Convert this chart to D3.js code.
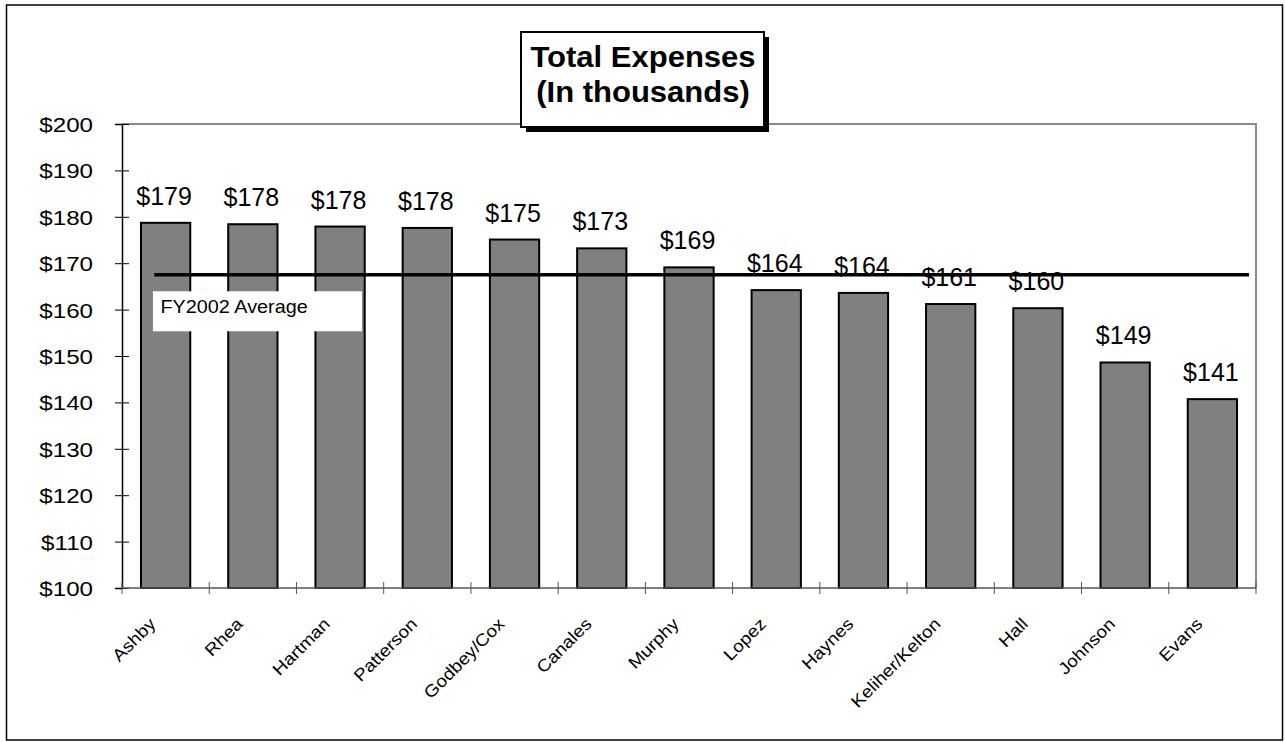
<!DOCTYPE html>
<html>
<head>
<meta charset="utf-8">
<script src="https://cdn.jsdelivr.net/npm/d3@7/dist/d3.min.js"></script>
<style>
  html, body { margin: 0; padding: 0; background: #fff; }
  svg { display: block; }
  text { font-family: "Liberation Sans", Arial, Helvetica, sans-serif; fill: #000; }
</style>
</head>
<body>
<svg id="chart" width="1285" height="742"></svg>
<script>
// ---- data ----
const categories = ["Ashby","Rhea","Hartman","Patterson","Godbey/Cox","Canales","Murphy","Lopez","Haynes","Keliher/Kelton","Hall","Johnson","Evans"];
const expenses = [178.7, 178.4, 177.9, 177.6, 175.1, 173.2, 169.1, 164.2, 163.6, 161.2, 160.3, 148.6, 140.7];
const averageValue = 167.5;
const averageLabel = "FY2002  Average";
const yTicks = [100,110,120,130,140,150,160,170,180,190,200];
const titleLines = ["Total Expenses", "(In thousands)"];

// ---- layout ----
const svg = d3.select("#chart");
const plot = { left: 122, right: 1256, top: 124, bottom: 588 };

// outer frame
svg.append("rect")
  .attr("x", 6.5).attr("y", 5).attr("width", 1276).attr("height", 735)
  .attr("fill", "#fff").attr("stroke", "#000").attr("stroke-width", 1.5);

const x = d3.scaleBand().domain(categories).range([plot.left, plot.right]).paddingInner(0.435).paddingOuter(0.2175);
const xb = d3.scaleBand().domain(categories).range([plot.left, plot.right]);
const y = d3.scaleLinear().domain([100, 200]).range([plot.bottom, plot.top]);

// plot frame top/right (gray)
svg.append("path")
  .attr("d", `M${plot.left},${plot.top}H${plot.right}V${plot.bottom}`)
  .attr("fill", "none").attr("stroke", "#8a8a8a").attr("stroke-width", 2);

// bars
svg.append("g").selectAll("rect").data(categories).join("rect")
  .attr("x", d => x(d))
  .attr("y", (d, i) => y(expenses[i]))
  .attr("width", x.bandwidth())
  .attr("height", (d, i) => y(100) - y(expenses[i]))
  .attr("fill", "#808080")
  .attr("stroke", "#000")
  .attr("stroke-width", 2);

// value labels
const fmt = v => "$" + d3.format(".0f")(v);
svg.append("g").selectAll("text").data(categories).join("text")
  .attr("transform", (d, i) => `translate(${x(d) + x.bandwidth() / 2 - 1.5},${y(expenses[i]) - 18})`)
  .attr("text-anchor", "middle")
  .style("font-size", "25px")
  .text((d, i) => fmt(expenses[i]));

// y axis
const yAxis = d3.axisLeft(y).tickValues(yTicks).tickFormat(d => "$" + d).tickSize(7).tickPadding(0);
const gy = svg.append("g").attr("transform", `translate(${plot.left},0)`).call(yAxis);
gy.select(".domain").attr("stroke", "#000").attr("stroke-width", 1.5);
gy.selectAll(".tick line").attr("x2", -7).attr("x1", 7).attr("stroke", "#000").attr("stroke-width", 1);
gy.selectAll(".tick text")
  .attr("x", null).attr("dy", null)
  .attr("transform", "translate(-29,7.5) scale(1.15,1)")
  .attr("text-anchor", "end")
  .style("font-size", "21px")
  .style("font-family", '"Liberation Sans", Arial, sans-serif')
  .attr("fill", "#000");

// x axis (ticks at category boundaries)
const boundaries = categories.map(c => xb(c)).concat([plot.right]);
const gx = svg.append("g");
gx.append("line")
  .attr("x1", plot.left).attr("x2", plot.right)
  .attr("y1", y(100)).attr("y2", y(100))
  .attr("stroke", "#555").attr("stroke-width", 1.5);
gx.selectAll("line.t").data(boundaries).join("line").attr("class", "t")
  .attr("x1", d => d).attr("x2", d => d)
  .attr("y1", y(100) - 6).attr("y2", y(100) + 6)
  .attr("stroke", "#555").attr("stroke-width", 1);
gx.selectAll("text").data(categories).join("text")
  .attr("transform", d => `translate(${xb(d) + xb.bandwidth() / 2 - 9},${y(100) + 37}) rotate(-45) scale(1.12,1)`)
  .attr("text-anchor", "end")
  .style("font-size", "17px")
  .text(d => d);

// average line
svg.append("line")
  .attr("x1", plot.left + xb.bandwidth() * 0.37)
  .attr("x2", plot.right - xb.bandwidth() * 0.08)
  .attr("y1", y(averageValue)).attr("y2", y(averageValue))
  .attr("stroke", "#000").attr("stroke-width", 3.5);

// average label box
const lbx = plot.left + xb.bandwidth() * 0.355;
svg.append("rect")
  .attr("x", lbx).attr("y", y(averageValue) + 16.5)
  .attr("width", 209).attr("height", 40)
  .attr("fill", "#fff");
svg.append("text")
  .attr("transform", `translate(${lbx + 7.5},${y(averageValue) + 38.5}) scale(1.12,1)`)
  .style("font-size", "17.7px")
  .text(averageLabel);

// title box with shadow
const tb = { x: 521, y: 32, w: 243, h: 95 };
svg.append("rect").attr("x", tb.x + 5).attr("y", tb.y + 5).attr("width", tb.w).attr("height", tb.h).attr("fill", "#000");
svg.append("rect").attr("x", tb.x).attr("y", tb.y).attr("width", tb.w).attr("height", tb.h)
  .attr("fill", "#fff").attr("stroke", "#000").attr("stroke-width", 2);
svg.append("g").selectAll("text").data(titleLines).join("text")
  .attr("transform", (d, i) => `translate(${tb.x + tb.w / 2 + 0.5},${67 + i * 34.5}) scale(1.07,1)`)
  .attr("text-anchor", "middle")
  .style("font-size", "29px")
  .style("font-weight", "bold")
  .text(d => d);
</script>
</body>
</html>
